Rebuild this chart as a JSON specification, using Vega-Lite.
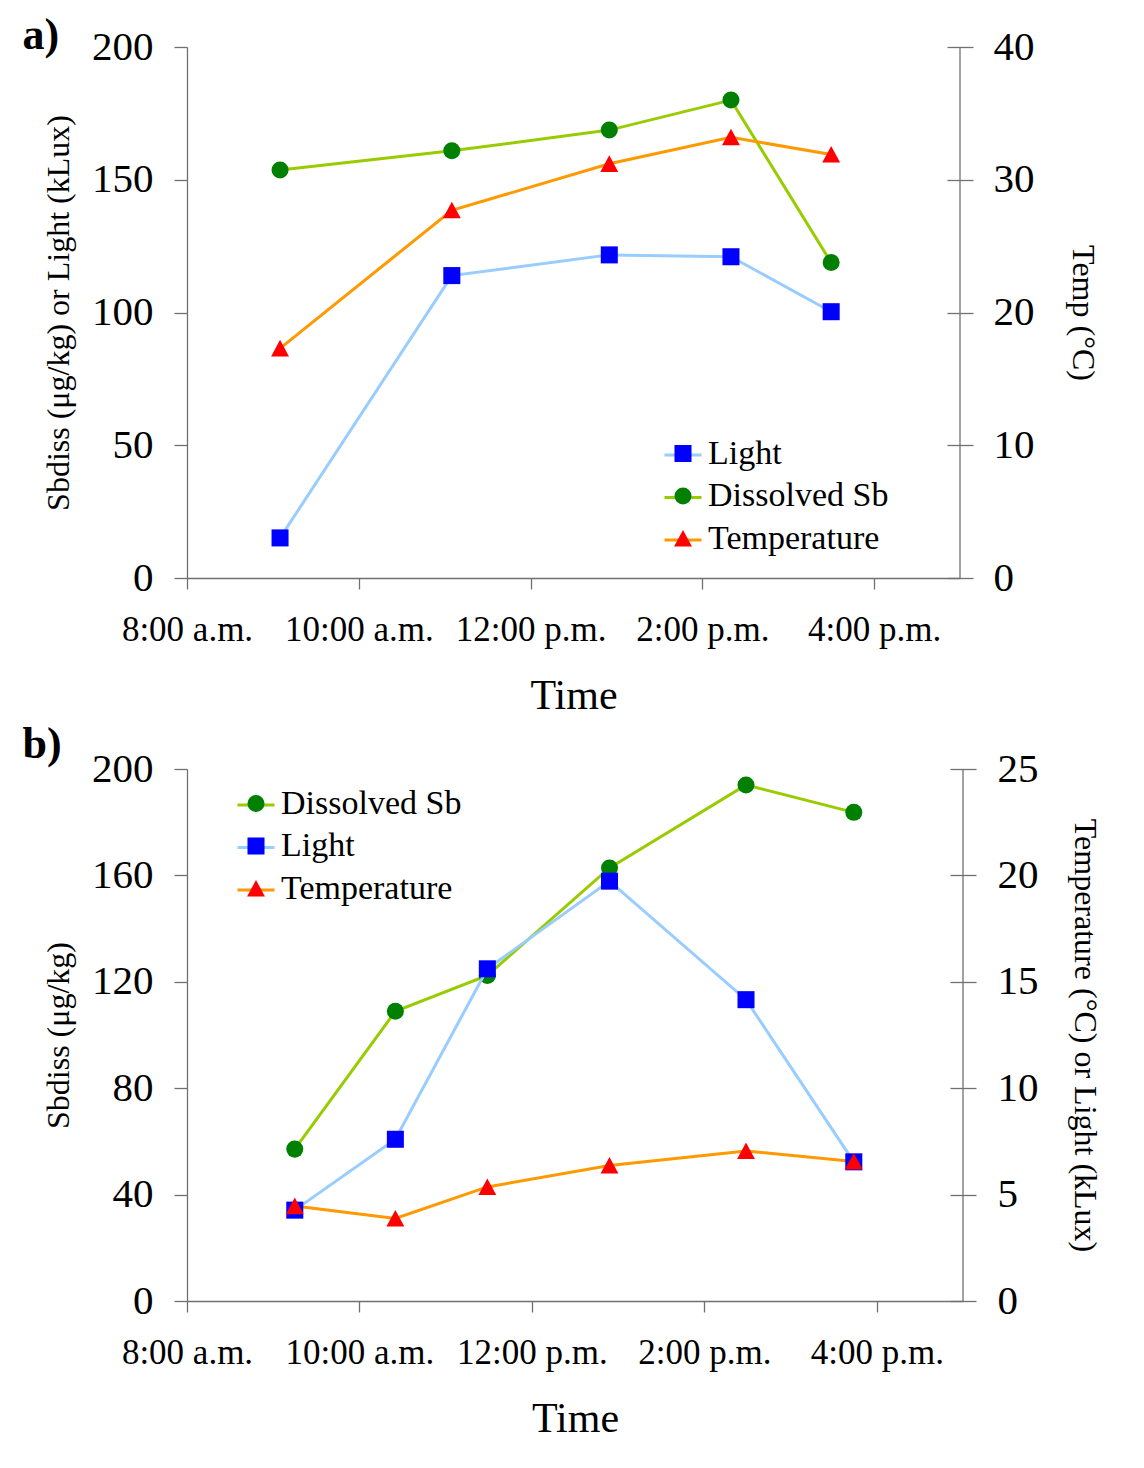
{
  "$schema": "https://vega.github.io/schema/vega-lite/v6.json",
  "background": "white",
  "padding": {"left": 22, "top": 14, "right": 10, "bottom": 10},
  "spacing": 6,
  "datasets": {
    "a": [
      {"series": "Light", "time": "2020-01-01T09:05:00", "value": 15.1},
      {"series": "Light", "time": "2020-01-01T11:05:00", "value": 113.9},
      {"series": "Light", "time": "2020-01-01T12:55:00", "value": 121.7},
      {"series": "Light", "time": "2020-01-01T14:20:00", "value": 121.0},
      {"series": "Light", "time": "2020-01-01T15:30:00", "value": 100.3},
      {"series": "Dissolved Sb", "time": "2020-01-01T09:05:00", "value": 153.7},
      {"series": "Dissolved Sb", "time": "2020-01-01T11:05:00", "value": 160.9},
      {"series": "Dissolved Sb", "time": "2020-01-01T12:55:00", "value": 168.7},
      {"series": "Dissolved Sb", "time": "2020-01-01T14:20:00", "value": 180.0},
      {"series": "Dissolved Sb", "time": "2020-01-01T15:30:00", "value": 118.8},
      {"series": "Temperature", "time": "2020-01-01T09:05:00", "value": 17.3},
      {"series": "Temperature", "time": "2020-01-01T11:05:00", "value": 27.7},
      {"series": "Temperature", "time": "2020-01-01T12:55:00", "value": 31.2},
      {"series": "Temperature", "time": "2020-01-01T14:20:00", "value": 33.2},
      {"series": "Temperature", "time": "2020-01-01T15:30:00", "value": 31.9}
    ],
    "b": [
      {"series": "Dissolved Sb", "time": "2020-01-01T09:15:00", "value": 57.1},
      {"series": "Dissolved Sb", "time": "2020-01-01T10:25:00", "value": 108.9},
      {"series": "Dissolved Sb", "time": "2020-01-01T11:29:00", "value": 122.4},
      {"series": "Dissolved Sb", "time": "2020-01-01T12:54:00", "value": 162.8},
      {"series": "Dissolved Sb", "time": "2020-01-01T14:29:00", "value": 194.0},
      {"series": "Dissolved Sb", "time": "2020-01-01T15:44:00", "value": 183.7},
      {"series": "Light", "time": "2020-01-01T09:15:00", "value": 4.27},
      {"series": "Light", "time": "2020-01-01T10:25:00", "value": 7.60},
      {"series": "Light", "time": "2020-01-01T11:29:00", "value": 15.61},
      {"series": "Light", "time": "2020-01-01T12:54:00", "value": 19.73},
      {"series": "Light", "time": "2020-01-01T14:29:00", "value": 14.16},
      {"series": "Light", "time": "2020-01-01T15:44:00", "value": 6.54},
      {"series": "Temperature", "time": "2020-01-01T09:15:00", "value": 4.46},
      {"series": "Temperature", "time": "2020-01-01T10:25:00", "value": 3.88},
      {"series": "Temperature", "time": "2020-01-01T11:29:00", "value": 5.36},
      {"series": "Temperature", "time": "2020-01-01T12:54:00", "value": 6.37},
      {"series": "Temperature", "time": "2020-01-01T14:29:00", "value": 7.05},
      {"series": "Temperature", "time": "2020-01-01T15:44:00", "value": 6.56}
    ],
    "axisEnd": [
      {"time": "2020-01-01T17:00:00"}
    ]
  },
  "vconcat": [
    {
      "data": {"name": "a"},
      "width": 773,
      "height": 531,
      "title": {"text": "a)", "anchor": "start", "frame": "bounds", "fontSize": 44, "fontWeight": "bold", "font": "Liberation Serif", "color": "#000", "baseline": "alphabetic", "offset": -67, "dx": -20},
      "encoding": {
        "x": {
          "field": "time", "type": "temporal", "title": "Time",
          "scale": {"domain": [{"year": 2020, "month": 1, "date": 1, "hours": 8}, {"year": 2020, "month": 1, "date": 1, "hours": 17}]},
          "axis": {
            "values": [{"year": 2020, "month": 1, "date": 1, "hours": 8}, {"year": 2020, "month": 1, "date": 1, "hours": 10}, {"year": 2020, "month": 1, "date": 1, "hours": 12}, {"year": 2020, "month": 1, "date": 1, "hours": 14}, {"year": 2020, "month": 1, "date": 1, "hours": 16}],
            "labelExpr": "timeFormat(datum.value, '%-I:%M') + (hours(datum.value) < 12 ? ' a.m.' : ' p.m.')"
          }
        }
      },
      "layer": [
        {
          "transform": [{"filter": "datum.series !== 'Temperature'"}],
          "encoding": {
            "y": {"field": "value", "type": "quantitative", "title": "Sbdiss (μg/kg) or Light (kLux)",
              "scale": {"domain": [0, 200]},
              "axis": {"orient": "left", "values": [0, 50, 100, 150, 200]}}
          },
          "layer": [
            {"mark": {"type": "line", "strokeWidth": 3},
             "encoding": {"stroke": {"field": "series", "type": "nominal",
               "scale": {"range": ["#99cc00", "#99ccff", "#ff9900"]},
               "legend": {"values": ["Light", "Dissolved Sb", "Temperature"], "title": null, "orient": "none", "legendX": 476, "legendY": 388, "symbolType": "stroke", "symbolSize": 1369, "symbolStrokeWidth": 3, "labelOpacity": 0, "rowPadding": 5.5}}}},
            {"mark": {"type": "point", "filled": true, "size": 290, "opacity": 1, "strokeWidth": 0},
             "encoding": {
               "fill": {"field": "series", "type": "nominal",
                 "scale": {"domain": ["Light", "Dissolved Sb", "Temperature"], "range": ["#0000ff", "#008000", "#ff0000"]},
                 "legend": {"title": null, "orient": "none", "legendX": 479, "legendY": 389.5, "symbolSize": 290, "symbolStrokeWidth": 0, "labelOffset": 8, "rowPadding": 8.5}},
               "shape": {"field": "series", "type": "nominal",
                 "scale": {"domain": ["Light", "Dissolved Sb", "Temperature"], "range": ["square", "circle", "M0,-1L1.05,0.95L-1.05,0.95Z"]}}
             }}
          ]
        },
        {
          "transform": [{"filter": "datum.series === 'Temperature'"}],
          "encoding": {
            "y": {"field": "value", "type": "quantitative", "title": "Temp (°C)",
              "scale": {"domain": [0, 40]},
              "axis": {"orient": "right", "values": [0, 10, 20, 30, 40], "titlePadding": 31, "offset": -13, "tickSize": 26, "domain": false, "labelPadding": 20}}
          },
          "layer": [
            {"mark": {"type": "line", "strokeWidth": 3},
             "encoding": {"stroke": {"field": "series", "type": "nominal"}}},
            {"mark": {"type": "point", "filled": true, "size": 290, "opacity": 1, "strokeWidth": 0},
             "encoding": {
               "fill": {"field": "series", "type": "nominal"},
               "shape": {"field": "series", "type": "nominal"}
             }}
          ]
        },
        {
          "data": {"name": "axisEnd"},
          "mark": {"type": "rule", "color": "#707070", "strokeWidth": 1.3},
          "encoding": {}
        }
      ],
      "resolve": {"scale": {"y": "independent"}}
    },
    {
      "data": {"name": "b"},
      "width": 776,
      "height": 532,
      "title": {"text": "b)", "anchor": "start", "frame": "bounds", "fontSize": 44, "fontWeight": "bold", "font": "Liberation Serif", "color": "#000", "baseline": "alphabetic", "offset": -54, "dx": -20},
      "encoding": {
        "x": {
          "field": "time", "type": "temporal", "title": "Time",
          "scale": {"domain": [{"year": 2020, "month": 1, "date": 1, "hours": 8}, {"year": 2020, "month": 1, "date": 1, "hours": 17}]},
          "axis": {
            "values": [{"year": 2020, "month": 1, "date": 1, "hours": 8}, {"year": 2020, "month": 1, "date": 1, "hours": 10}, {"year": 2020, "month": 1, "date": 1, "hours": 12}, {"year": 2020, "month": 1, "date": 1, "hours": 14}, {"year": 2020, "month": 1, "date": 1, "hours": 16}],
            "labelExpr": "timeFormat(datum.value, '%-I:%M') + (hours(datum.value) < 12 ? ' a.m.' : ' p.m.')"
          }
        }
      },
      "layer": [
        {
          "transform": [{"filter": "datum.series === 'Dissolved Sb'"}],
          "encoding": {
            "y": {"field": "value", "type": "quantitative", "title": "Sbdiss (μg/kg)",
              "scale": {"domain": [0, 200]},
              "axis": {"orient": "left", "values": [0, 40, 80, 120, 160, 200]}}
          },
          "layer": [
            {"mark": {"type": "line", "strokeWidth": 3},
             "encoding": {"stroke": {"field": "series", "type": "nominal",
               "scale": {"range": ["#99cc00", "#99ccff", "#ff9900"]},
               "legend": {"values": ["Dissolved Sb", "Light", "Temperature"], "title": null, "orient": "none", "legendX": 49, "legendY": 16, "symbolType": "stroke", "symbolSize": 1369, "symbolStrokeWidth": 3, "labelOpacity": 0, "rowPadding": 5.5}}}},
            {"mark": {"type": "point", "filled": true, "size": 290, "opacity": 1, "strokeWidth": 0},
             "encoding": {
               "fill": {"field": "series", "type": "nominal",
                 "scale": {"domain": ["Dissolved Sb", "Light", "Temperature"], "range": ["#008000", "#0000ff", "#ff0000"]},
                 "legend": {"title": null, "orient": "none", "legendX": 52, "legendY": 17.5, "symbolSize": 290, "symbolStrokeWidth": 0, "labelOffset": 8, "rowPadding": 8.5}},
               "shape": {"field": "series", "type": "nominal",
                 "scale": {"domain": ["Dissolved Sb", "Light", "Temperature"], "range": ["circle", "square", "M0,-1L1.05,0.95L-1.05,0.95Z"]}}
             }}
          ]
        },
        {
          "transform": [{"filter": "datum.series !== 'Dissolved Sb'"}],
          "encoding": {
            "y": {"field": "value", "type": "quantitative", "title": "Temperature (°C) or Light (kLux)",
              "scale": {"domain": [0, 25]},
              "axis": {"orient": "right", "values": [0, 5, 10, 15, 20, 25], "titlePadding": 29, "offset": -13, "tickSize": 26, "domain": false, "labelPadding": 21}}
          },
          "layer": [
            {"mark": {"type": "line", "strokeWidth": 3},
             "encoding": {"stroke": {"field": "series", "type": "nominal"}}},
            {"mark": {"type": "point", "filled": true, "size": 290, "opacity": 1, "strokeWidth": 0},
             "encoding": {
               "fill": {"field": "series", "type": "nominal"},
               "shape": {"field": "series", "type": "nominal"}
             }}
          ]
        },
        {
          "data": {"name": "axisEnd"},
          "mark": {"type": "rule", "color": "#707070", "strokeWidth": 1.3},
          "encoding": {}
        }
      ],
      "resolve": {"scale": {"y": "independent"}}
    }
  ],
  "resolve": {"scale": {"stroke": "independent", "fill": "independent", "shape": "independent"}},
  "config": {
    "font": "Liberation Serif",
    "view": {"stroke": null},
    "axis": {
      "labelFont": "Liberation Serif", "titleFont": "Liberation Serif",
      "labelColor": "#000", "titleColor": "#000", "titleFontWeight": "normal",
      "grid": false, "domainColor": "#707070", "tickColor": "#707070",
      "domainWidth": 1.3, "tickWidth": 1.3, "tickSize": 13, "labelOverlap": false, "labelFlush": false
    },
    "axisY": {"labelFontSize": 41, "titleFontSize": 32, "labelPadding": 21, "titlePadding": 16},
    "axisX": {"labelFontSize": 35, "titleFontSize": 42, "tickSize": 11, "labelPadding": 23.5, "titlePadding": 28},
    "legend": {"labelFont": "Liberation Serif", "labelFontSize": 34, "labelColor": "#000", "padding": 0, "labelLimit": 600}
  }
}
